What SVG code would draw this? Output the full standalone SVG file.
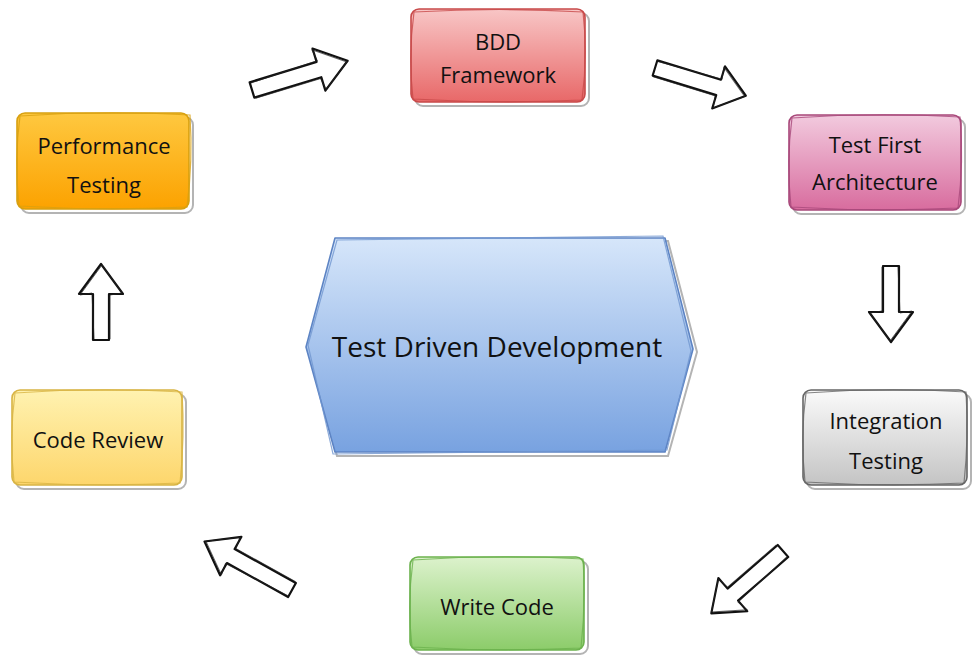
<svg xmlns="http://www.w3.org/2000/svg" width="972" height="657" viewBox="0 0 972 657">
  <style>
    .lbl { font-family: "Open Sans", "DejaVu Sans", sans-serif; font-size: 22px; fill: #111; text-anchor: middle; }
    .big { font-size: 28px; }
    .shadow { fill: none; stroke: #b4b4b4; stroke-width: 2; }
    .edge { stroke-width: 1.6; stroke-linejoin: round; }
    .sketch { fill: none; stroke-width: 1.2; opacity: 0.8; }
    .arrow { fill: #fff; stroke: #111; stroke-width: 2.2; stroke-linejoin: round; }
    .arrow2 { fill: none; stroke: #222; stroke-width: 1; opacity: 0.7; stroke-linejoin: round; }
  </style>
  <defs>
    <linearGradient id="gRed" x1="0" y1="0" x2="0" y2="1">
      <stop offset="0" stop-color="#f8c6c6"/><stop offset="1" stop-color="#e86868"/>
    </linearGradient>
    <linearGradient id="gPink" x1="0" y1="0" x2="0" y2="1">
      <stop offset="0" stop-color="#f2cade"/><stop offset="1" stop-color="#d86c9e"/>
    </linearGradient>
    <linearGradient id="gOrange" x1="0" y1="0" x2="0" y2="1">
      <stop offset="0" stop-color="#fec840"/><stop offset="1" stop-color="#fca200"/>
    </linearGradient>
    <linearGradient id="gGray" x1="0" y1="0" x2="0" y2="1">
      <stop offset="0" stop-color="#fafafa"/><stop offset="1" stop-color="#c4c4c4"/>
    </linearGradient>
    <linearGradient id="gYellow" x1="0" y1="0" x2="0" y2="1">
      <stop offset="0" stop-color="#fff2b0"/><stop offset="1" stop-color="#fdd66c"/>
    </linearGradient>
    <linearGradient id="gGreen" x1="0" y1="0" x2="0" y2="1">
      <stop offset="0" stop-color="#dcf2cc"/><stop offset="1" stop-color="#8ccc6a"/>
    </linearGradient>
    <linearGradient id="gBlue" x1="0" y1="0" x2="0" y2="1">
      <stop offset="0" stop-color="#d6e6fa"/><stop offset="1" stop-color="#78a2e0"/>
    </linearGradient>
    <!-- block arrow pointing along +x, tail at origin -->
    <g id="arrowLong">
      <path class="arrow" d="M0,-8 L70,-8 L70,-22 L100,0 L70,22 L70,8 L0,8 Z"/>
      <path class="arrow2" d="M1,-7 L71,-9 L69,-21 L99,1 L71,21 L69,9 L1,9"/>
    </g>
    <g id="arrowShort">
      <path class="arrow" d="M0,-8 L46,-8 L46,-22 L76,0 L46,22 L46,8 L0,8 Z"/>
      <path class="arrow2" d="M1,-7 L47,-9 L45,-21 L75,1 L47,21 L45,9 L1,9"/>
    </g>
  </defs>

  <!-- connectors -->
  <g id="connectors">
    <use href="#arrowLong" transform="translate(252,90) rotate(-17)"/>
    <use href="#arrowLong" transform="translate(655,68) rotate(17) scale(0.95,1)"/>
    <use href="#arrowShort" transform="translate(891,266) rotate(90)"/>
    <use href="#arrowLong" transform="translate(783,551) rotate(139) scale(0.95,1)"/>
    <use href="#arrowLong" transform="translate(292,590) rotate(-151)"/>
    <use href="#arrowShort" transform="translate(101,340) rotate(-90)"/>
  </g>

  <!-- central hexagon -->
  <g id="tdd">
    <path class="shadow" d="M309,350 L337,241 L668,241 L697,352 L668,456 L337,456 Z"/>
    <path class="edge" fill="url(#gBlue)" stroke="#5d84c4" d="M306,347 L335,238 L665,238 L693,349 L665,452 L335,452 Z"/>
    <path class="sketch" stroke="#7096d0" d="M308,345 L337,240 L663,236 L691,351 L667,450 L333,454 Z"/>
    <text class="lbl big" x="497" y="357">Test Driven Development</text>
  </g>

  <g id="bdd">
    <rect class="shadow" x="415" y="13" width="174" height="93" rx="8"/>
    <rect class="edge" x="411" y="9" width="174" height="93" rx="8" fill="url(#gRed)" stroke="#c84a4a"/>
    <path class="sketch" stroke="#c84a4a" d="M414,12 Q500,7 583,12 Q588,55 582,100 Q500,104 413,99 Q408,55 414,12"/>
    <text class="lbl" x="498" y="50">BDD</text>
    <text class="lbl" x="498" y="83">Framework</text>
  </g>

  <g id="testfirst">
    <rect class="shadow" x="793" y="119" width="172" height="95" rx="8"/>
    <rect class="edge" x="789" y="115" width="172" height="95" rx="8" fill="url(#gPink)" stroke="#a8487a"/>
    <path class="sketch" stroke="#a8487a" d="M792,118 Q876,112 960,117 Q964,162 958,208 Q876,212 791,207 Q786,162 792,118"/>
    <text class="lbl" x="875" y="153">Test First</text>
    <text class="lbl" x="875" y="190">Architecture</text>
  </g>

  <g id="performance">
    <rect class="shadow" x="21" y="117" width="172" height="96" rx="8"/>
    <rect class="edge" x="17" y="113" width="172" height="96" rx="8" fill="url(#gOrange)" stroke="#d8a010"/>
    <path class="sketch" stroke="#d8a010" d="M20,116 Q104,110 190,115 Q193,160 187,207 Q104,211 19,206 Q14,160 20,116"/>
    <text class="lbl" x="104" y="154">Performance</text>
    <text class="lbl" x="104" y="193">Testing</text>
  </g>

  <g id="integration">
    <rect class="shadow" x="807" y="394" width="164" height="95" rx="8"/>
    <rect class="edge" x="803" y="390" width="164" height="95" rx="8" fill="url(#gGray)" stroke="#666"/>
    <path class="sketch" stroke="#666" d="M806,393 Q886,387 966,392 Q969,437 964,483 Q886,487 805,482 Q800,437 806,393"/>
    <text class="lbl" x="886" y="429">Integration</text>
    <text class="lbl" x="886" y="469">Testing</text>
  </g>

  <g id="codereview">
    <rect class="shadow" x="16" y="394" width="170" height="95" rx="8"/>
    <rect class="edge" x="12" y="390" width="170" height="95" rx="8" fill="url(#gYellow)" stroke="#d8b444"/>
    <path class="sketch" stroke="#d8b444" d="M15,393 Q97,387 182,392 Q185,437 180,483 Q97,487 14,482 Q9,437 15,393"/>
    <text class="lbl" x="98" y="448">Code Review</text>
  </g>

  <g id="writecode">
    <rect class="shadow" x="414" y="561" width="174" height="93" rx="8"/>
    <rect class="edge" x="410" y="557" width="174" height="93" rx="8" fill="url(#gGreen)" stroke="#6cb24e"/>
    <path class="sketch" stroke="#6cb24e" d="M413,560 Q497,554 583,559 Q586,604 581,648 Q497,652 412,647 Q407,604 413,560"/>
    <text class="lbl" x="497" y="615">Write Code</text>
  </g>
</svg>
